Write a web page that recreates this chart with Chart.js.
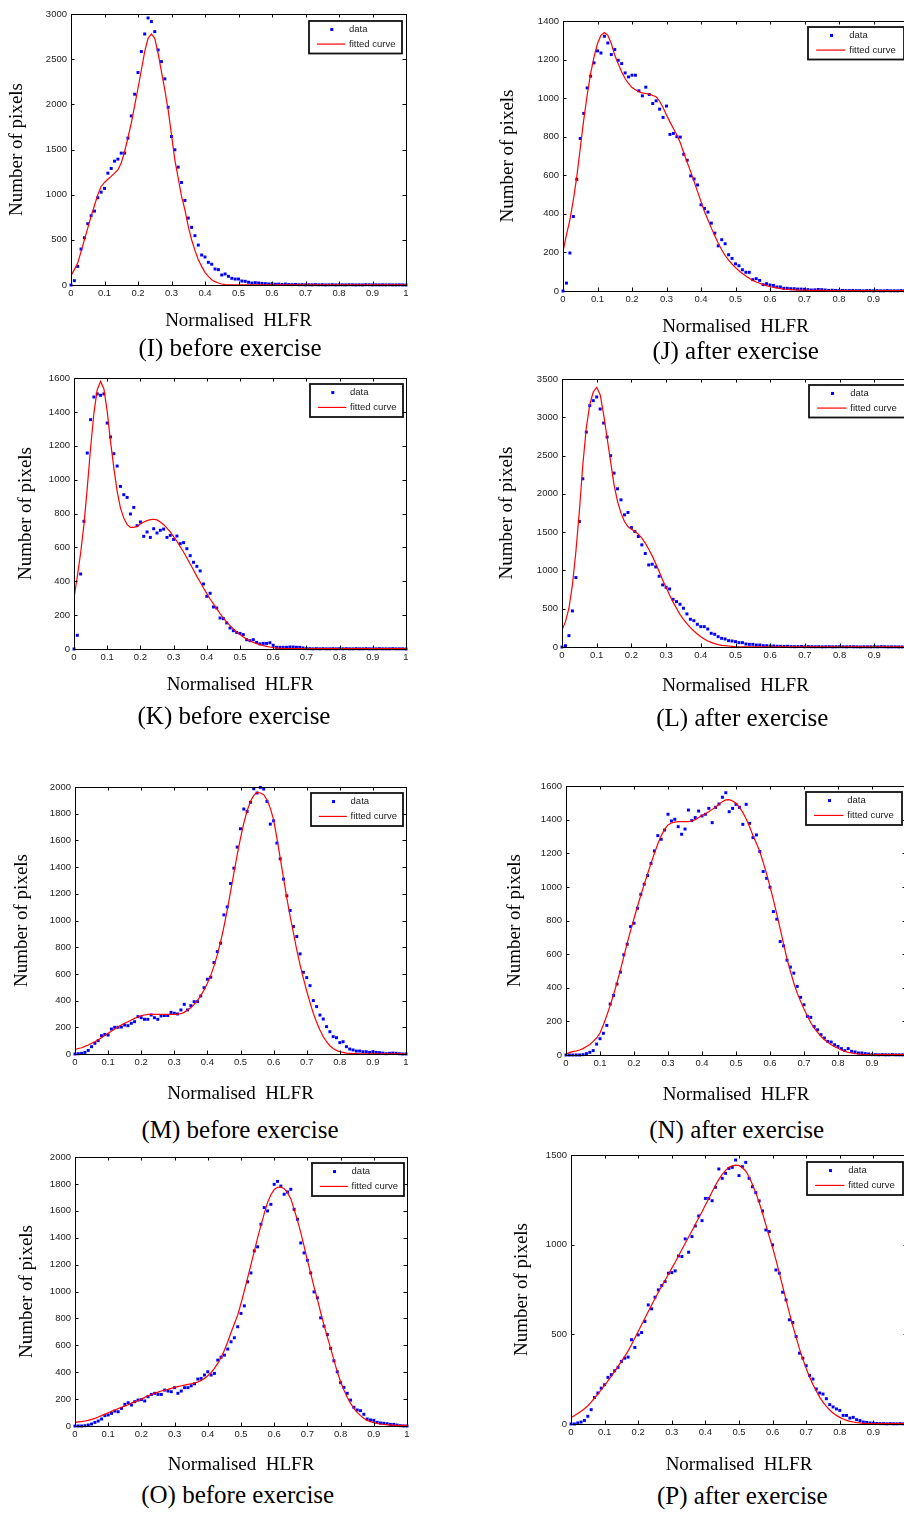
<!DOCTYPE html>
<html><head><meta charset="utf-8">
<script src="https://cdn.jsdelivr.net/npm/chart.js@4.4.1/dist/chart.umd.min.js"></script>
<style>
html,body{margin:0;padding:0;background:#fff;}
body{width:904px;height:1513px;overflow:hidden;position:relative;}
canvas{position:absolute;}
.cap{position:absolute;font-family:'Liberation Serif','Times New Roman',serif;font-size:25px;line-height:25px;white-space:nowrap;color:#000;transform:translate(-50%,-60%);}
</style></head><body>
<script>
// ---------- DATA ----------
const bins = [0,0.01,0.02,0.03,0.04,0.05,0.06,0.07,0.08,0.09,0.1,0.11,0.12,0.13,0.14,0.15,0.16,0.17,0.18,0.19,0.2,0.21,0.22,0.23,0.24,0.25,0.26,0.27,0.28,0.29,0.3,0.31,0.32,0.33,0.34,0.35,0.36,0.37,0.38,0.39,0.4,0.41,0.42,0.43,0.44,0.45,0.46,0.47,0.48,0.49,0.5,0.51,0.52,0.53,0.54,0.55,0.56,0.57,0.58,0.59,0.6,0.61,0.62,0.63,0.64,0.65,0.66,0.67,0.68,0.69,0.7,0.71,0.72,0.73,0.74,0.75,0.76,0.77,0.78,0.79,0.8,0.81,0.82,0.83,0.84,0.85,0.86,0.87,0.88,0.89,0.9,0.91,0.92,0.93,0.94,0.95,0.96,0.97,0.98,0.99,1];

const dataI = [0,48,206,398,523,678,767,818,966,1028,1069,1238,1290,1371,1393,1460,1460,1626,1872,2112,2352,2584,2779,2956,2916,2805,2602,2473,2282,1968,1644,1497,1305,1135,936,741,638,546,442,332,310,251,230,177,170,111,122,96,74,66,66,44,41,30,22,26,22,18,15,11,15,8,10,6,10,5,4,6,3,4,2,3,2,4,2,3,1,2,3,1,2,2,1,3,2,1,2,1,3,2,1,2,1,2,1,2,1,1,2,1,0];
const fitI = [103,170,243,370,501,630,759,880,999,1091,1135,1170,1202,1238,1275,1349,1478,1630,1791,1985,2178,2380,2584,2731,2779,2731,2565,2363,2160,1939,1662,1386,1183,980,833,649,501,383,280,206,140,96,59,37,22,11,4,3,3,3,3,3,3,3,3,3,3,3,3,3,3,3,3,3,3,3,3,3,3,3,3,3,3,3,3,3,3,3,3,3,3,3,3,3,3,3,3,3,3,3,3,3,3,3,3,3,3,3,3,3,3];

const dataJ = [0,41,197,386,579,791,921,1053,1114,1183,1245,1234,1321,1286,1226,1252,1196,1179,1131,1110,1119,1119,1038,1012,1057,1019,972,986,943,900,959,812,817,800,798,709,678,597,581,550,447,428,409,352,300,234,266,245,188,169,141,131,110,97,97,59,64,55,33,38,31,29,21,21,14,14,12,12,10,10,9,7,5,6,8,7,5,3,4,3,2,3,2,2,3,2,2,1,2,2,1,2,1,1,2,1,1,1,2,1,1];
const fitJ = [205,291,369,472,593,740,886,1015,1127,1214,1283,1326,1340,1326,1283,1222,1179,1136,1102,1076,1055,1043,1033,1027,1024,1021,1014,1007,984,952,912,877,843,809,769,717,667,619,567,515,464,412,369,326,286,248,214,184,160,140,121,105,91,78,66,55,47,40,33,28,22,19,16,12,10,9,7,6,5,5,4,3,3,3,3,3,2,2,2,2,2,2,2,2,2,2,2,2,2,2,2,2,2,2,2,2,2,2,2,2,2];

const dataK = [0,81,443,754,1157,1354,1488,1506,1498,1506,1334,1252,1153,1080,960,911,895,797,836,728,750,665,691,659,710,685,701,708,659,671,647,667,622,628,592,551,512,488,461,384,311,329,248,242,183,179,154,124,108,98,92,85,55,49,55,39,30,33,33,37,22,10,10,10,10,12,12,10,10,6,2,2,1,2,1,2,1,1,2,1,2,1,2,1,1,2,1,1,2,1,1,1,2,1,1,1,2,1,1,1,0];
const fitK = [301,429,567,734,951,1187,1393,1531,1580,1537,1403,1226,1069,931,832,773,734,718,718,724,738,750,758,764,766,762,750,734,714,691,663,636,604,573,537,502,466,429,396,360,327,295,266,238,209,183,159,138,118,100,85,71,59,47,39,31,26,20,16,12,8,6,4,4,3,3,3,3,3,3,3,3,3,3,3,3,3,3,3,3,3,3,3,3,3,3,3,3,3,3,3,3,3,3,3,3,3,3,3,3,3];

const dataL = [0,17,148,471,907,1639,2197,2807,3152,3217,3265,3108,2925,2742,2498,2271,2066,1922,1726,1757,1560,1508,1443,1334,1221,1072,1081,1046,924,811,780,758,623,593,558,506,432,362,344,296,266,266,235,179,166,135,113,105,83,78,70,57,57,39,35,35,26,26,17,17,13,13,10,9,8,9,5,4,5,6,3,5,4,3,4,2,3,4,2,3,4,3,2,4,3,2,1,3,2,2,3,2,4,3,1,2,2,1,1,2,1];
const fitL = [222,331,506,811,1247,1770,2380,2860,3165,3330,3391,3295,3034,2729,2424,2118,1901,1748,1639,1574,1539,1508,1473,1421,1356,1277,1190,1090,985,876,776,680,589,506,427,362,305,253,209,170,135,105,78,61,44,31,22,17,13,9,4,2,2,2,2,2,2,2,2,2,2,2,2,2,2,2,2,2,2,2,2,2,2,2,2,2,2,2,2,2,2,2,2,2,2,2,2,2,2,2,2,2,2,2,2,2,2,2,2,2,2];

const dataM = [0,2,5,12,27,55,80,100,137,147,142,187,200,200,202,217,212,230,242,280,272,260,260,292,272,260,285,288,288,312,305,300,330,372,330,362,392,392,435,497,560,575,685,767,830,1042,1102,1277,1392,1550,1687,1835,1817,1885,1987,1955,1997,1985,1892,1722,1747,1580,1462,1310,1185,1075,955,880,750,612,572,512,400,355,292,262,205,167,130,122,85,92,55,37,30,22,22,17,17,12,17,12,10,7,2,5,7,5,2,0,0];
const fitM = [35,41,47,57,67,80,92,107,122,138,155,171,187,202,217,230,242,255,267,277,287,292,297,297,297,297,297,297,297,297,297,299,302,312,330,347,372,402,437,480,530,587,660,742,842,955,1080,1217,1355,1492,1617,1730,1822,1892,1937,1960,1955,1942,1905,1842,1755,1617,1467,1317,1167,1030,905,780,667,567,472,385,305,237,180,130,92,62,42,27,17,12,7,5,3,3,2,2,2,2,2,2,2,2,2,1,1,1,1,1,0];

const dataN = [0,0,0,0,0,2,8,16,26,65,97,129,176,303,354,422,493,596,659,764,784,873,956,1016,1067,1140,1214,1305,1283,1338,1432,1392,1402,1358,1313,1344,1457,1394,1412,1451,1422,1432,1467,1382,1473,1493,1533,1560,1447,1467,1491,1473,1372,1491,1378,1293,1309,1210,1091,1051,998,853,808,675,649,564,523,487,408,343,299,230,224,170,150,121,101,81,77,61,51,38,26,38,22,18,12,12,8,6,2,2,1,2,1,1,2,1,1,1,0];
const fitN = [6,14,20,24,30,38,50,63,81,101,131,180,235,295,360,430,505,585,665,740,812,882,950,1015,1078,1140,1200,1255,1305,1342,1368,1380,1385,1388,1388,1388,1388,1392,1400,1412,1424,1435,1447,1461,1475,1491,1507,1517,1519,1511,1497,1473,1443,1404,1358,1305,1259,1210,1146,1077,1002,923,838,750,659,572,497,428,368,319,273,232,192,160,135,111,91,75,61,50,40,30,22,16,12,8,6,4,2,2,2,2,2,2,2,2,2,2,2,2,2];

const dataO = [0,0,0,2,7,15,27,37,52,77,82,94,111,106,131,161,173,156,181,193,196,186,218,235,243,235,235,267,260,255,285,243,260,285,285,299,314,349,354,379,403,379,391,490,512,527,572,626,656,738,837,893,1072,1138,1302,1332,1500,1624,1599,1648,1797,1819,1784,1723,1740,1760,1611,1537,1361,1287,1232,1138,997,953,804,742,680,577,485,403,322,287,243,193,139,119,114,87,52,45,42,27,22,20,17,12,12,7,2,0,0];
const fitO = [27,30,32,37,42,49,57,67,77,88,99,109,119,129,139,148,158,170,181,190,200,213,225,234,243,252,260,266,272,280,287,293,299,304,309,314,319,327,339,354,374,398,428,465,510,564,626,695,760,824,911,1005,1101,1200,1299,1398,1492,1579,1661,1720,1758,1775,1777,1765,1735,1690,1611,1530,1438,1337,1232,1134,1035,943,844,750,663,577,490,403,329,267,213,168,131,101,77,57,42,32,25,20,15,12,10,7,6,5,5,4,4];

const dataP = [0,0,6,11,20,43,80,148,173,200,219,260,275,297,316,349,367,373,470,427,497,510,572,664,642,707,748,772,794,841,844,854,937,934,1032,958,1045,1104,1160,1134,1258,1258,1245,1320,1422,1370,1398,1425,1431,1472,1385,1435,1459,1370,1323,1290,1244,1188,1082,1073,999,859,841,735,692,581,566,488,395,367,325,271,251,195,173,167,141,108,95,84,76,48,48,33,37,24,19,11,9,6,4,3,2,2,1,2,1,1,2,1,1];
const fitP = [37,46,58,71,85,102,122,145,167,191,215,241,267,293,321,349,377,408,442,479,516,553,590,627,664,700,735,768,802,835,869,902,937,973,1008,1043,1078,1114,1149,1184,1221,1258,1295,1331,1364,1392,1414,1431,1440,1444,1442,1429,1411,1379,1336,1290,1236,1175,1110,1045,984,915,841,767,692,618,548,483,419,362,310,262,221,184,150,122,98,78,61,48,37,28,20,15,11,7,6,4,2,2,2,2,2,2,2,2,2,2,2,2,2];

const xTickLabels = ['0','0.1','0.2','0.3','0.4','0.5','0.6','0.7','0.8','0.9','1'];
const yMaxes = [3000,1400,1600,3500,2000,1600,2000,1500];
const ySteps = [500,200,200,500,200,200,200,500];
const captions = ['(I) before exercise','(J) after exercise','(K) before exercise','(L) after exercise','(M) before exercise','(N) after exercise','(O) before exercise','(P) after exercise'];
const seriesData = [dataI,dataJ,dataK,dataL,dataM,dataN,dataO,dataP];
const seriesFit = [fitI,fitJ,fitK,fitL,fitM,fitN,fitO,fitP];
const xTitle = 'Normalised  HLFR';
const yTitle = 'Number of pixels';
const legendLabels = ['data','fitted curve'];

// ---------- LAYOUT (positions only) ----------
const layouts = [
  {cl:0,   ct:4,    W:414, H:335, wy:71,  ytp:5.6,  xtp:6.9, cap:[230,350],    leg:[93,32.5,4,6.5]},
  {cl:470, ct:11,   W:446, H:334, wy:93,  ytp:26.9, xtp:6.6, cap:[735.7,353.3],leg:[96,32.5,4,6]},
  {cl:0,   ct:368,  W:414, H:335, wy:74,  ytp:14.9, xtp:6.2, cap:[234,718.3],  leg:[93,33,3.5,6]},
  {cl:470, ct:369,  W:447, H:332, wy:92,  ytp:25.4, xtp:3.9, cap:[742.3,720],  leg:[96,32.5,4,6]},
  {cl:0,   ct:777,  W:414, H:331, wy:75,  ytp:11.1, xtp:2.6, cap:[240,1131.7], leg:[92,33,3,5.5]},
  {cl:470, ct:776,  W:444, H:333, wy:96,  ytp:33.4, xtp:2.6, cap:[736.7,1131.7],leg:[96,33,4,6.3]},
  {cl:0,   ct:1147, W:415, H:333, wy:75,  ytp:16.1, xtp:3.9, cap:[237.7,1497.3],leg:[92,33,3,6]},
  {cl:470, ct:1145, W:445, H:333, wy:101, ytp:40.8, xtp:1.2, cap:[742.3,1498.3],leg:[96,33,4,6.5]}
];

const SANS = "'Liberation Sans', Arial, sans-serif";
const SERIF = "'Liberation Serif', 'Times New Roman', serif";

const boxPlugin = {
  id: 'matlabBox',
  afterDraw(chart, args, opts) {
    const {ctx, chartArea: a} = chart;
    const xs = chart.scales.x, ys = chart.scales.y;
    ctx.save();
    ctx.strokeStyle = '#000';
    ctx.lineWidth = 1;
    const tl = 3.5;
    ctx.beginPath();
    xs.ticks.forEach(t => {
      const px = Math.round(xs.getPixelForValue(t.value)) + 0.5;
      ctx.moveTo(px, a.bottom); ctx.lineTo(px, a.bottom - tl);
      ctx.moveTo(px, a.top); ctx.lineTo(px, a.top + tl);
    });
    ys.ticks.forEach(t => {
      const py = Math.round(ys.getPixelForValue(t.value)) + 0.5;
      ctx.moveTo(a.left, py); ctx.lineTo(a.left + tl, py);
      ctx.moveTo(a.right, py); ctx.lineTo(a.right - tl, py);
    });
    ctx.stroke();
    ctx.strokeRect(Math.round(a.left) + 0.5, Math.round(a.top) + 0.5, Math.round(a.right - a.left), Math.round(a.bottom - a.top));
    // legend
    const [lw, lh, gr, gt] = opts.leg;
    const bx = Math.round(a.right - gr - lw), by = Math.round(a.top + gt);
    ctx.fillStyle = '#fff';
    ctx.fillRect(bx, by, lw, lh);
    ctx.lineWidth = 1.8;
    ctx.strokeStyle = '#111';
    ctx.strokeRect(bx, by, lw, lh);
    const r1 = by + lh * 0.26, r2 = by + lh * 0.71;
    ctx.fillStyle = '#0000ff';
    const mx = bx + lw * 0.245;
    ctx.fillRect(mx - 1.5, r1 - 1.5, 3, 3);
    ctx.strokeStyle = '#ff0000';
    ctx.lineWidth = 1.2;
    ctx.beginPath();
    ctx.moveTo(bx + lw * 0.085, r2); ctx.lineTo(bx + lw * 0.39, r2);
    ctx.stroke();
    ctx.fillStyle = '#222';
    ctx.font = "9.5px " + SANS;
    ctx.textBaseline = 'middle';
    ctx.textAlign = 'left';
    ctx.fillText(opts.labels[0], bx + lw * 0.43, r1);
    ctx.fillText(opts.labels[1], bx + lw * 0.43, r2);
    ctx.restore();
  }
};

layouts.forEach((L, i) => {
  const cv = document.createElement('canvas');
  cv.width = L.W; cv.height = L.H;
  cv.style.left = L.cl + 'px'; cv.style.top = L.ct + 'px';
  cv.style.width = L.W + 'px'; cv.style.height = L.H + 'px';
  document.body.appendChild(cv);

  const cap = document.createElement('div');
  cap.className = 'cap';
  cap.textContent = captions[i];
  cap.style.left = L.cap[0] + 'px';
  cap.style.top = L.cap[1] + 'px';
  document.body.appendChild(cap);

  const pts = bins.map((b, k) => ({x: b, y: seriesData[i][k]}));
  const fit = bins.map((b, k) => ({x: b, y: seriesFit[i][k]}));

  new Chart(cv.getContext('2d'), {
    type: 'scatter',
    data: {
      datasets: [
        {label: legendLabels[0], data: pts, order: 2, pointStyle: 'rect', pointRadius: 2.1, pointHoverRadius: 2.1,
         backgroundColor: '#0000ff', borderColor: '#0000ff', borderWidth: 0, showLine: false, clip: false},
        {label: legendLabels[1], data: fit, order: 1, showLine: true, pointRadius: 0, pointHoverRadius: 0,
         borderColor: '#ff0000', backgroundColor: '#ff0000', borderWidth: 1.2, tension: 0, fill: false}
      ]
    },
    options: {
      responsive: false, animation: false, devicePixelRatio: 1,
      layout: {padding: {left: 0, top: 10, right: 8, bottom: 0}},
      plugins: {legend: {display: false}, tooltip: {enabled: false},
        matlabBox: {leg: L.leg, labels: legendLabels}},
      events: [],
      scales: {
        x: {
          type: 'linear', min: 0, max: 1,
          grid: {display: false, drawTicks: false}, border: {display: false},
          ticks: {stepSize: 0.1, padding: 3, autoSkip: false, maxRotation: 0, color: '#222',
            font: {family: SANS, size: 9.5},
            callback: (v) => xTickLabels[Math.round(v * 10)]},
          title: {display: true, text: xTitle, color: '#000', font: {family: SERIF, size: 19},
            padding: {top: 0, bottom: L.xtp}},
          afterFit: (s) => { s.height = 54; }
        },
        y: {
          type: 'linear', min: 0, max: yMaxes[i],
          grid: {display: false, drawTicks: false}, border: {display: false},
          ticks: {stepSize: ySteps[i], padding: 4, color: '#222', font: {family: SANS, size: 9.5},
            callback: (v) => String(v)},
          title: {display: true, text: yTitle, color: '#000', font: {family: SERIF, size: 19},
            padding: {top: L.ytp, bottom: 0}},
          afterFit: (s) => { s.width = L.wy; }
        }
      }
    },
    plugins: [boxPlugin]
  });
});
</script>
</body></html>
